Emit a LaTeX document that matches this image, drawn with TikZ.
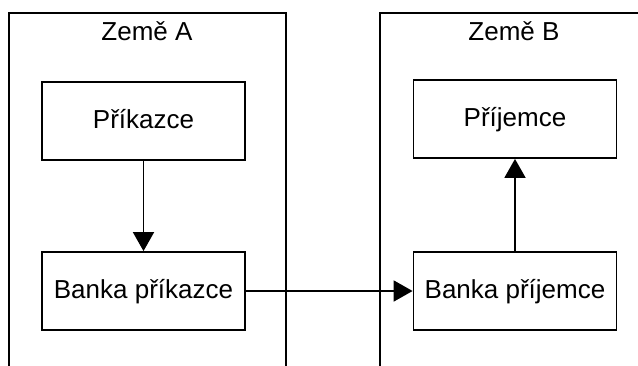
\documentclass[tikz,border=0pt]{standalone}
\usepackage{fontspec}
\setmainfont{Liberation Sans}
\usetikzlibrary{arrows.meta}
\begin{document}
\begin{tikzpicture}[x=1pt,y=-1pt,
  line width=1.8pt,
  frame/.style={draw=black,line width=1.8pt},
  boxnode/.style={draw=black,line width=1.8pt,minimum width=203pt,minimum height=78pt,inner sep=0pt,font=\fontsize{26}{30}\selectfont,text height=19pt,text depth=5pt},
  title/.style={font=\fontsize{26}{30}\selectfont,inner sep=0pt,text height=19pt,text depth=5pt},
  conn/.style={line width=1.8pt,-{Triangle[width=21pt,length=19pt]}}]
\useasboundingbox (0,0) rectangle (638,365);
% country frames
\draw[frame] (9,368) -- (9,13) -- (286,13) -- (286,368);
\draw[frame] (380,368) -- (380,13) -- (642,13);
\node[title] (zemeA) at (147,33) {Země A};
\node[title] (zemeB) at (514,33) {Země B};
% boxes
\node[boxnode] (prikazce) at (143.5,121) {Příkazce};
\node[boxnode] (bankaA) at (143.5,291) {Banka příkazce};
\node[boxnode] (prijemce) at (515,119) {Příjemce};
\node[boxnode] (bankaB) at (515,291) {Banka příjemce};
% connectors
\draw[conn] (prikazce) -- (bankaA);
\draw[conn] (bankaA) -- (bankaB);
\draw[conn] (bankaB) -- (prijemce);
\end{tikzpicture}
\end{document}
